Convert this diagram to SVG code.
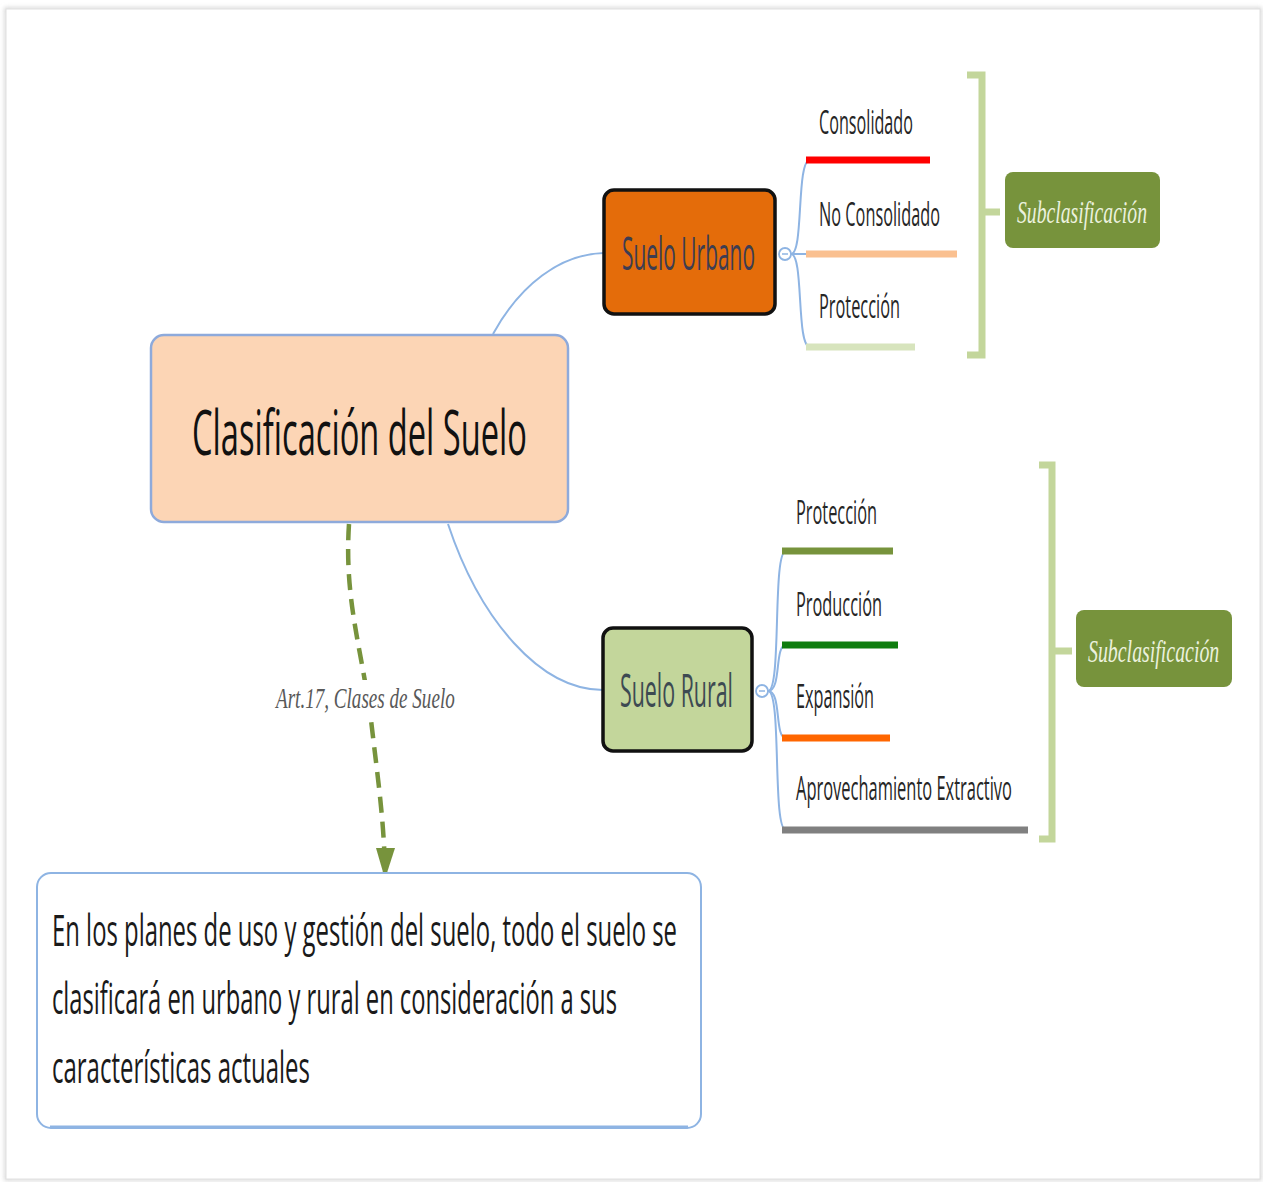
<svg xmlns="http://www.w3.org/2000/svg" width="1263" height="1182" viewBox="0 0 1263 1182">
<defs>
<filter id="sh" x="-5%" y="-5%" width="110%" height="110%"><feGaussianBlur stdDeviation="2"/></filter>
<marker id="arr" markerWidth="6" markerHeight="8" refX="3" refY="7.5" orient="auto" markerUnits="userSpaceOnUse" viewBox="0 0 6 8"><path d="M0,0 L6,0 L3,8 Z" fill="#77933c"/></marker>
<style>
.t{font-family:"Open Sans","Noto Sans","Liberation Sans",sans-serif;}
.s{font-family:"Liberation Serif","DejaVu Serif",serif;font-style:italic;}
.conn{fill:none;stroke:#8eb4e3;stroke-width:2;}
.ul{stroke-width:7;fill:none;}
.br{stroke:#c3d69b;stroke-width:7;fill:none;}
.sub{fill:#77933c;}
.subt{fill:#ebf1de;font-size:31px;}
.child{fill:#262626;font-size:32px;}
</style>
</defs>
<rect x="0" y="0" width="1263" height="1182" fill="#ffffff"/>
<rect x="6" y="9" width="1254" height="1170" fill="none" stroke="#cfcfcf" stroke-width="3" filter="url(#sh)"/>
<rect x="6" y="9" width="1254" height="1170" fill="#ffffff" stroke="#e0e0e0" stroke-width="1"/>

<g id="connectors">
<path class="conn" d="M493,334 C520,285 560,254 604,253"/>
<path class="conn" d="M448,524 C480,620 540,690 603,690"/>
<path class="conn" d="M791,254 L806,254"/>
<path class="conn" d="M791,254 C804,254 796,160 810,160"/>
<path class="conn" d="M791,254 C804,254 796,347 810,347"/>
<path class="conn" d="M768,691 C782,691 772,551 786,551"/>
<path class="conn" d="M768,691 C782,691 774,645 786,645"/>
<path class="conn" d="M768,691 C782,691 774,738 786,738"/>
<path class="conn" d="M768,691 C782,691 772,830 786,830"/>
<path d="M349,524 C344,600 362,650 371,720 C378,780 384,820 385,872" fill="none" stroke="#77933c" stroke-width="4.5" stroke-dasharray="16,9"/>
<path d="M376,848 L395,848 L385,879 Z" fill="#77933c"/>
<rect x="273" y="680" width="186" height="38" fill="#ffffff"/>
<text class="s" transform="translate(276,708) scale(0.65,1)" font-size="29" fill="#595959" textLength="275" lengthAdjust="spacingAndGlyphs">Art.17, Clases de Suelo</text>
</g>

<g id="central">
<rect x="151" y="335" width="417" height="187" rx="13" fill="#fcd5b5" stroke="#8eaadb" stroke-width="2.5"/>
<text class="t" transform="translate(192,455) scale(0.5,1)" font-size="62" fill="#111111" textLength="670" lengthAdjust="spacingAndGlyphs">Clasificación del Suelo</text>
</g>

<g id="suelo-urbano">
<rect x="604" y="190" width="171" height="124" rx="10" fill="#e46c0a" stroke="#111111" stroke-width="3.5"/>
<text class="t" transform="translate(622,270) scale(0.5,1)" font-size="45" fill="#3d3d52" textLength="266" lengthAdjust="spacingAndGlyphs">Suelo Urbano</text>
<circle cx="785" cy="254" r="6" fill="#ffffff" stroke="#8eb4e3" stroke-width="1.8"/>
<line x1="782" y1="254" x2="788" y2="254" stroke="#8eb4e3" stroke-width="1.5"/>
</g>

<g id="suelo-rural">
<rect x="603" y="628" width="149" height="123" rx="10" fill="#c3d69b" stroke="#111111" stroke-width="3.5"/>
<text class="t" transform="translate(620,707) scale(0.5,1)" font-size="45" fill="#3d4a52" textLength="226" lengthAdjust="spacingAndGlyphs">Suelo Rural</text>
<circle cx="762" cy="691" r="6" fill="#ffffff" stroke="#8eb4e3" stroke-width="1.8"/>
<line x1="759" y1="691" x2="765" y2="691" stroke="#8eb4e3" stroke-width="1.5"/>
</g>

<g id="u-consolidado">
<text class="t child" transform="translate(819,134) scale(0.5,1)" textLength="188" lengthAdjust="spacingAndGlyphs">Consolidado</text>
<line class="ul" x1="806" y1="160" x2="930" y2="160" stroke="#ff0000"/>
</g>
<g id="u-no-consolidado">
<text class="t child" transform="translate(819,226) scale(0.5,1)" textLength="242" lengthAdjust="spacingAndGlyphs">No Consolidado</text>
<line class="ul" x1="806" y1="254" x2="957" y2="254" stroke="#fac090"/>
</g>
<g id="u-proteccion">
<text class="t child" transform="translate(819,318) scale(0.5,1)" textLength="162" lengthAdjust="spacingAndGlyphs">Protección</text>
<line class="ul" x1="806" y1="347" x2="915" y2="347" stroke="#d7e4bd"/>
</g>

<g id="r-proteccion">
<text class="t child" transform="translate(796,524) scale(0.5,1)" textLength="162" lengthAdjust="spacingAndGlyphs">Protección</text>
<line class="ul" x1="782" y1="551" x2="893" y2="551" stroke="#77933c"/>
</g>
<g id="r-produccion">
<text class="t child" transform="translate(796,616) scale(0.5,1)" textLength="172" lengthAdjust="spacingAndGlyphs">Producción</text>
<line class="ul" x1="782" y1="645" x2="898" y2="645" stroke="#0f7d0f"/>
</g>
<g id="r-expansion">
<text class="t child" transform="translate(796,708) scale(0.5,1)" textLength="156" lengthAdjust="spacingAndGlyphs">Expansión</text>
<line class="ul" x1="782" y1="738" x2="890" y2="738" stroke="#ff6600"/>
</g>
<g id="r-aprovechamiento">
<text class="t child" transform="translate(796,800) scale(0.5,1)" textLength="432" lengthAdjust="spacingAndGlyphs">Aprovechamiento Extractivo</text>
<line class="ul" x1="782" y1="830" x2="1028" y2="830" stroke="#808080"/>
</g>

<g id="bracket-urbano">
<path class="br" d="M967,75 L982,75 L982,355 L967,355 M982,212 L1000,212"/>
</g>
<g id="sub-urbano">
<rect class="sub" x="1005" y="172" width="155" height="76" rx="8"/>
<text class="s subt" transform="translate(1017,223) scale(0.65,1)" textLength="200" lengthAdjust="spacingAndGlyphs">Subclasificación</text>
</g>

<g id="bracket-rural">
<path class="br" d="M1039,465 L1052,465 L1052,839 L1039,839 M1052,651 L1072,651"/>
</g>
<g id="sub-rural">
<rect class="sub" x="1076" y="610" width="156" height="77" rx="8"/>
<text class="s subt" transform="translate(1088,662) scale(0.65,1)" textLength="202" lengthAdjust="spacingAndGlyphs">Subclasificación</text>
</g>

<g id="definicion">
<rect x="37" y="873" width="664" height="255" rx="14" fill="#ffffff" stroke="#8eb4e3" stroke-width="2"/>
<line x1="50" y1="1127" x2="688" y2="1127" stroke="#8eb4e3" stroke-width="3"/>
<text class="t" transform="translate(52,946) scale(0.5,1)" font-size="43" fill="#1a1a1a" textLength="1250" lengthAdjust="spacingAndGlyphs">En los planes de uso y gestión del suelo, todo el suelo se</text>
<text class="t" transform="translate(52,1014) scale(0.5,1)" font-size="43" fill="#1a1a1a" textLength="1130" lengthAdjust="spacingAndGlyphs">clasificará en urbano y rural en consideración a sus</text>
<text class="t" transform="translate(52,1083) scale(0.5,1)" font-size="43" fill="#1a1a1a" textLength="516" lengthAdjust="spacingAndGlyphs">características actuales</text>
</g>
</svg>
